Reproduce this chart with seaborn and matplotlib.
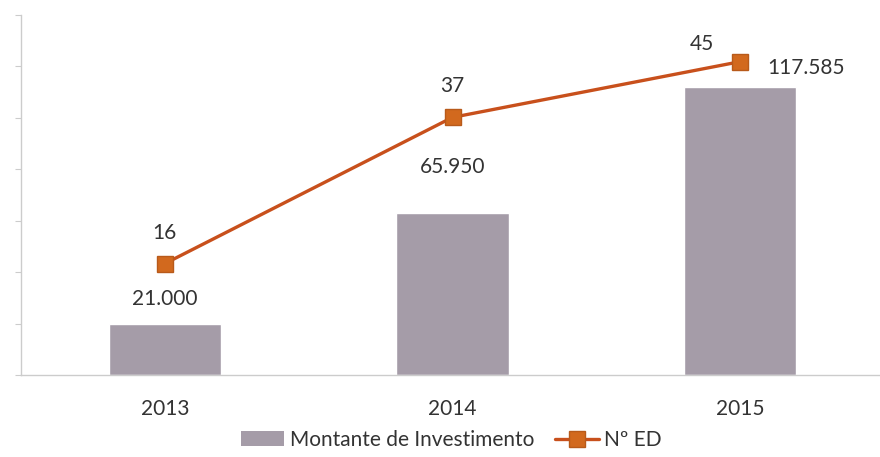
import pandas as pd
import matplotlib.pyplot as plt
import seaborn as sns
from matplotlib.patches import Patch
from matplotlib.lines import Line2D

# Chart values
years = ["2013", "2014", "2015"]
investimento = [21000, 65950, 117585]
investimento_labels = ["21.000", "65.950", "117.585"]
num_ed = [16, 37, 45]

df = pd.DataFrame({"ano": years, "investimento": investimento, "ed": num_ed})

bar_color = "#a59ca8"
line_color = "#c8501c"
marker_color = "#d2691e"

sns.set_style("white")
plt.rcParams["font.family"] = ["Lato", "DejaVu Sans"]

fig = plt.figure(figsize=(8.8, 4.57), dpi=100)
ax = fig.add_axes([21 / 880, 82 / 457, 863 / 880, 360 / 457])

sns.barplot(data=df, x="ano", y="investimento", color=bar_color,
            width=0.39, saturation=1, ax=ax)
ax.set_xlim(-0.5, 2.5)
ax.set_ylim(0, 147000)
ax.set_yticks([i * 21000 for i in range(8)])
ax.set_yticklabels([])
ax.set_xlabel("")
ax.set_ylabel("")
ax.set_xticks([0.5, 1.5], minor=True)
ax.tick_params(axis="x", which="major", length=0, labelsize=15, pad=17, colors="#333333")
ax.tick_params(axis="x", which="minor", length=4, color="#cccccc", direction="out")
ax.tick_params(axis="y", length=4, color="#cccccc", direction="out")
for side in ["top", "right"]:
    ax.spines[side].set_visible(False)
for side in ["left", "bottom"]:
    ax.spines[side].set_color("#cccccc")
    ax.spines[side].set_linewidth(1)

# secondary axis for the line
ax2 = ax.twinx()
sns.lineplot(data=df, x="ano", y="ed", ax=ax2, color=line_color, linewidth=2.4,
             marker="s", markersize=11, markerfacecolor=marker_color,
             markeredgecolor="#b85a1a", markeredgewidth=1)
ax2.set_ylim(0, 51.7)
ax2.set_xlim(-0.5, 2.5)
ax2.set_yticks([])
ax2.set_ylabel("")
ax2.set_xlabel("")
for side in ax2.spines:
    ax2.spines[side].set_visible(False)

# data labels
text_kw = dict(fontsize=15, color="#333333", ha="center", va="center")
bar_offsets = [(0, 25), (0, 46)]
for i, (val, lab) in enumerate(zip(investimento[:2], investimento_labels[:2])):
    ax.annotate(lab, (i, val), xytext=bar_offsets[i], textcoords="offset pixels", **text_kw)
ax2.annotate(investimento_labels[2], (2, num_ed[2]), xytext=(66, -6),
             textcoords="offset pixels", **text_kw)
ed_offsets = [(0, 31), (0, 31), (-38, 18)]
for i, val in enumerate(num_ed):
    ax2.annotate(str(val), (i, val), xytext=ed_offsets[i], textcoords="offset pixels", **text_kw)

handles = [
    Patch(facecolor=bar_color, edgecolor="none"),
    Line2D([], [], color=line_color, linewidth=2.4, marker="s", markersize=11,
           markerfacecolor=marker_color, markeredgecolor="#b85a1a"),
]
fig.legend(handles, ["Montante de Investimento", "Nº ED"], loc="center",
           bbox_to_anchor=(451 / 880, 1 - 440 / 457), ncol=2, frameon=False,
           fontsize=15, handlelength=2.1, handletextpad=0.25, columnspacing=1.0,
           labelcolor="#333333")

fig.savefig("out.png", dpi=100, facecolor="white")
